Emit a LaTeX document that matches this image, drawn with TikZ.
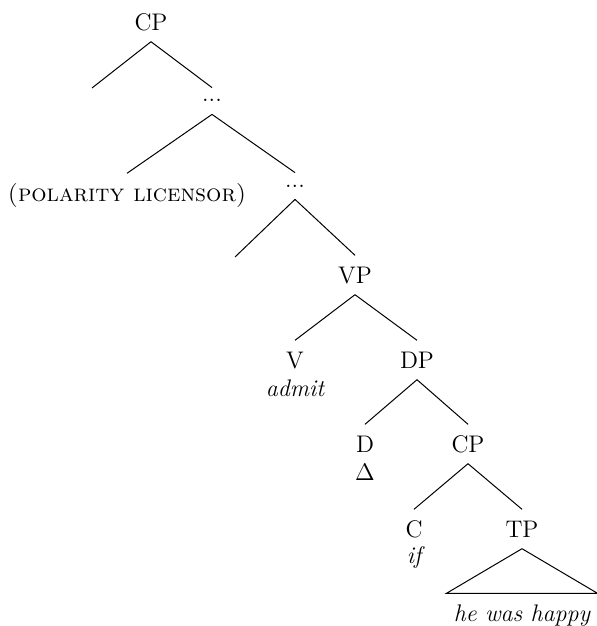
\documentclass[tikz,border=0pt]{standalone}
\usepackage{tikz}
\usetikzlibrary{calc}
\newcommand{\wdots}{\makebox[10pt]{.\hfill.\hfill.}}
\tikzset{
	cat/.style={inner xsep=0pt, inner ysep=5.5pt, text height=8.3pt, text depth=0pt},
	dotnode/.style={inner xsep=0pt, inner ysep=6pt, text height=1pt, text depth=0pt},
	word/.style={inner sep=0pt},
	branch/.style={line width=0.5pt}
}

\begin{document}
\begin{tikzpicture}[x=0.5pt, y=-0.5pt, font=\fontsize{12}{14}\selectfont]
			%%%%% START %%%%%
			
			\useasboundingbox (0, 0) rectangle (596, 626);
			
			\node[cat] (cpTop) at (151, 22) {CP};
			\coordinate (cpLeft) at (92, 88);
			\node[dotnode] (dotsA) at (212, 101) {\wdots};
			
			\node[cat] (licensor) at (127, 193) {\textsc{(polarity licensor)}};
			\node[dotnode] (dotsB) at (295, 186) {\wdots};
			
			\coordinate (dotsLeft) at (235, 257);
			\node[cat] (vp) at (355, 275) {VP};
			
			\node[cat] (v) at (295, 360) {V};
			\node[word] (admit) at (295, 388) {\itshape admit};
			\node[cat] (dp) at (417, 360) {DP};
			
			\node[cat] (d) at (365, 444) {D};
			\node[word] (delta) at (365, 472) {$\Delta$};
			\node[cat] (cpLow) at (468, 444) {CP};
			
			\node[cat] (c) at (414, 529) {C};
			\node[word] (if) at (414, 557) {\itshape if};
			\node[cat] (tp) at (522, 529) {TP};
			
			\node[cat, inner xsep=3.5pt] (happy) at (522, 613) {\itshape he was happy};
			
			% branches
			\draw[branch] (cpTop.south) -- (cpLeft);
			\draw[branch] (cpTop.south) -- (dotsA.north);
			\draw[branch] (dotsA.south) -- (licensor.north);
			\draw[branch] (dotsA.south) -- (dotsB.north);
			\draw[branch] (dotsB.south) -- (dotsLeft);
			\draw[branch] (dotsB.south) -- (vp.north);
			\draw[branch] (vp.south) -- (v.north);
			\draw[branch] (vp.south) -- (dp.north);
			\draw[branch] (dp.south) -- (d.north);
			\draw[branch] (dp.south) -- (cpLow.north);
			\draw[branch] (cpLow.south) -- (c.north);
			\draw[branch] (cpLow.south) -- (tp.north);
			\draw[branch] (tp.south) -- (happy.north west) -- (happy.north east) -- cycle;
			
			%%%%% END %%%%%
\end{tikzpicture}
\end{document}
